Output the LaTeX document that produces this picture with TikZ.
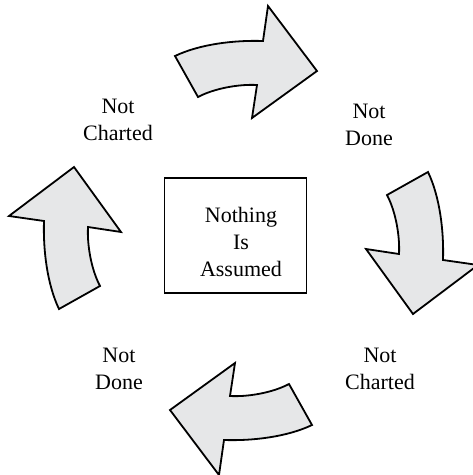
\documentclass[tikz,border=0pt]{standalone}
\usepackage{fontspec}
\setmainfont{Liberation Serif}
\usepackage{tikz}
\definecolor{arrowgrey}{HTML}{E6E7E8}
\tikzset{
  turn/.style={draw=black, fill=arrowgrey, line width=1.8pt, line join=miter},
  cyclelabel/.style={align=center, inner sep=0pt, font=\fontsize{22}{27}\selectfont},
  turnarrow/.pic={
    \draw[turn] (-68.5,184.5) .. controls (-43.5,196.5) and (-8.5,200.5) .. (19.5,199.5)
      -- (24.5,234.5) -- (73.5,169.5) -- (8.5,122.5) -- (13.5,155.5)
      .. controls (-3.5,156.5) and (-28.5,152.5) .. (-45.5,143.5) -- cycle;
  }
}

\begin{document}
\begin{tikzpicture}[x=1pt,y=1pt]
  \useasboundingbox (0,0) rectangle (473,-475);
  \coordinate (hub) at (243.5,-240.5);
  % the four turning arrows
  \pic at (hub) {turnarrow};
  \pic[rotate=-90] at (hub) {turnarrow};
  \pic[rotate=-180] at (hub) {turnarrow};
  \pic[rotate=-270] at (hub) {turnarrow};
  % centre box
  \node[draw, line width=1.3pt, minimum width=142pt, minimum height=115pt]
    (box) at (235.5,-235.5) {};
  \node[cyclelabel] (assumed) at (241,-242) {Nothing\\Is\\Assumed};
  % labels between the arrows
  \node[cyclelabel] (chartedtop) at (118,-119.5) {Not\\Charted};
  \node[cyclelabel] (donetop) at (369,-124.5) {Not\\Done};
  \node[cyclelabel] (chartedbottom) at (380,-369) {Not\\Charted};
  \node[cyclelabel] (donebottom) at (119,-368.5) {Not\\Done};
\end{tikzpicture}
\end{document}
